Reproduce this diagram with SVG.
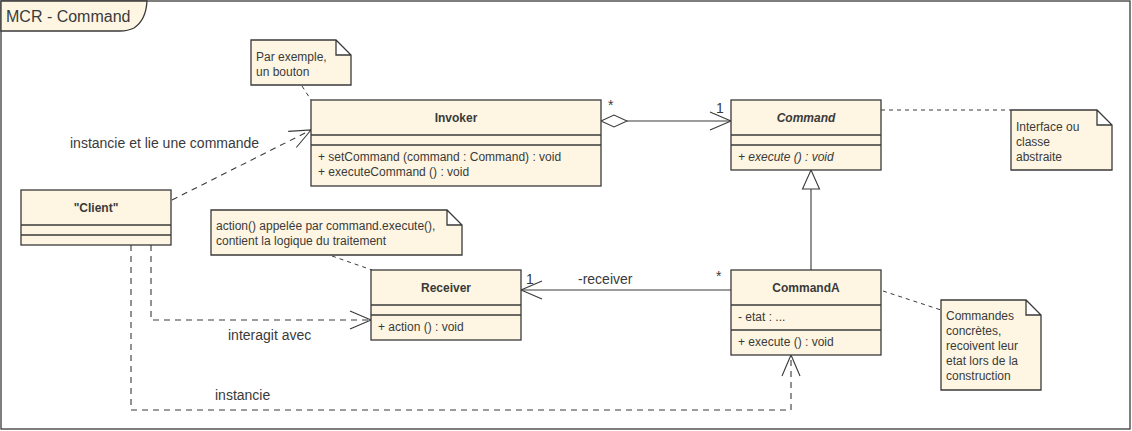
<svg xmlns="http://www.w3.org/2000/svg" width="1132" height="431" viewBox="0 0 1132 431">
<defs>
<style>
text{font-family:"Liberation Sans",Arial,sans-serif;fill:#3a3a3a}
.box{fill:#FEF6E2;stroke:#3a3a3a;stroke-width:1.3}
.sep{stroke:#3a3a3a;stroke-width:1.3}
.name{font-size:12px;font-weight:bold;text-anchor:middle}
.mem{font-size:12px}
.note{font-size:12px}
.lbl{font-size:14px}
.conn{fill:none;stroke:#3a3a3a;stroke-width:1.1}
.dash{stroke-dasharray:6,5}
.ndash{fill:none;stroke:#3a3a3a;stroke-width:1;stroke-dasharray:4,4}
</style>
<marker id="open" viewBox="0 0 24 20" refX="22" refY="10" markerWidth="24" markerHeight="20" markerUnits="userSpaceOnUse" orient="auto">
<path d="M1,1 L22,10 L1,19" fill="none" stroke="#3a3a3a" stroke-width="1.1"/>
</marker>
</defs>
<rect x="1" y="1" width="1129" height="428" fill="#fff" stroke="#3a3a3a" stroke-width="1.3"/>
<path d="M1,1 H147 Q146,20 134,28 Q128,31 120,31 H1 Z" class="box"/>
<text x="6" y="22" style="font-size:16px">MCR - Command</text>

<g id="connectors">
<line x1="172" y1="200" x2="311" y2="130" class="conn dash" marker-end="url(#open)"/>
<path d="M627,121 H731" class="conn" marker-end="url(#open)"/>
<path d="M601,121 L614,115 L627,121 L614,127 Z" fill="#fff" stroke="#3a3a3a" stroke-width="1.1"/>
<line x1="811" y1="270" x2="811" y2="189" class="conn"/>
<path d="M811,170 L819.5,189 L802.5,189 Z" fill="#fff" stroke="#3a3a3a" stroke-width="1.1"/>
<path d="M731,290 H521" class="conn" marker-end="url(#open)"/>
<path d="M151,245 V320 H371" class="conn dash" marker-end="url(#open)"/>
<path d="M131,245 V410 H791 V355" class="conn dash" marker-end="url(#open)"/>
<line x1="881" y1="110" x2="1011" y2="110" class="ndash"/>
<line x1="302" y1="86" x2="311" y2="100" class="ndash"/>
<line x1="332" y1="256" x2="372" y2="270" class="ndash"/>
<line x1="883" y1="291" x2="941" y2="310" class="ndash"/>
<text x="70" y="148" class="lbl">instancie et lie une commande</text>
<text x="608" y="110" class="lbl">*</text>
<text x="716" y="113" class="lbl">1</text>
<text x="578" y="284" class="lbl">-receiver</text>
<text x="526" y="284" class="lbl">1</text>
<text x="716" y="281" class="lbl">*</text>
<text x="228" y="340" class="lbl">interagit avec</text>
<text x="215" y="400" class="lbl">instancie</text>
</g>

<g id="Invoker">
<rect x="311" y="100" width="290" height="86" class="box"/>
<line x1="311" y1="135" x2="601" y2="135" class="sep"/>
<line x1="311" y1="145" x2="601" y2="145" class="sep"/>
<text x="456" y="122" class="name">Invoker</text>
<text x="318" y="161" class="mem">+ setCommand (command : Command) : void</text>
<text x="318" y="176" class="mem">+ executeCommand () : void</text>
</g>

<g id="Command">
<rect x="731" y="100" width="150" height="70" class="box"/>
<line x1="731" y1="135" x2="881" y2="135" class="sep"/>
<line x1="731" y1="145" x2="881" y2="145" class="sep"/>
<text x="806" y="122" class="name" font-style="italic">Command</text>
<text x="738" y="161" class="mem" font-style="italic">+ execute () : void</text>
</g>

<g id="Client">
<rect x="21" y="190" width="150" height="55" class="box"/>
<line x1="21" y1="225" x2="171" y2="225" class="sep"/>
<line x1="21" y1="235" x2="171" y2="235" class="sep"/>
<text x="96" y="212" class="name">"Client"</text>
</g>

<g id="Receiver">
<rect x="371" y="270" width="150" height="70" class="box"/>
<line x1="371" y1="305" x2="521" y2="305" class="sep"/>
<line x1="371" y1="315" x2="521" y2="315" class="sep"/>
<text x="446" y="292" class="name">Receiver</text>
<text x="378" y="331" class="mem">+ action () : void</text>
</g>

<g id="CommandA">
<rect x="731" y="270" width="150" height="85" class="box"/>
<line x1="731" y1="305" x2="881" y2="305" class="sep"/>
<line x1="731" y1="330" x2="881" y2="330" class="sep"/>
<text x="806" y="292" class="name">CommandA</text>
<text x="738" y="321" class="mem">- etat : ...</text>
<text x="738" y="346" class="mem">+ execute () : void</text>
</g>

<g id="NoteBouton">
<path d="M251,40 H336 L351,55 V85 H251 Z M336,40 V55 H351" class="box"/>
<text x="256" y="61" class="note">Par exemple,</text>
<text x="256" y="76" class="note">un bouton</text>
</g>

<g id="NoteInterface">
<path d="M1011,110 H1097 L1112,125 V170 H1011 Z M1097,110 V125 H1112" class="box"/>
<text x="1016" y="131" class="note">Interface ou</text>
<text x="1016" y="146" class="note">classe</text>
<text x="1016" y="161" class="note">abstraite</text>
</g>

<g id="NoteAction">
<path d="M211,210 H447 L462,225 V255 H211 Z M447,210 V225 H462" class="box"/>
<text x="216" y="230" class="note">action() appelée par command.execute(),</text>
<text x="216" y="245" class="note">contient la logique du traitement</text>
</g>

<g id="NoteCommandes">
<path d="M941,300 H1026 L1041,315 V390 H941 Z M1026,300 V315 H1041" class="box"/>
<text x="946" y="320" class="note">Commandes</text>
<text x="946" y="335" class="note">concrètes,</text>
<text x="946" y="350" class="note">recoivent leur</text>
<text x="946" y="365" class="note">etat lors de la</text>
<text x="946" y="380" class="note">construction</text>
</g>
</svg>
